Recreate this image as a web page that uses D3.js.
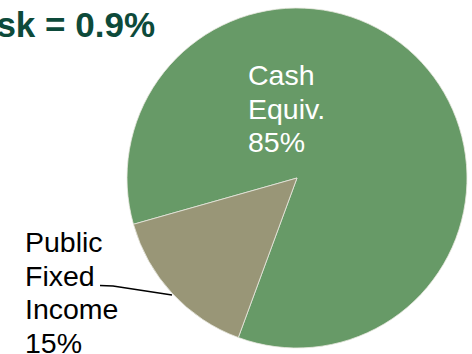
<!DOCTYPE html>
<html>
<head>
<meta charset="utf-8">
<script src="https://cdn.jsdelivr.net/npm/d3@7/dist/d3.min.js"></script>
<style>
  html, body { margin: 0; padding: 0; background: #fff; }
  svg { display: block; }
</style>
</head>
<body>
<svg id="chart" width="472" height="354"></svg>
<script>
// Allocation data
const categories = ["Cash Equiv.", "Public Fixed Income"];
const values = [85, 15];
const labelLines = [["Cash", "Equiv.", "85%"], ["Public", "Fixed", "Income", "15%"]];
const colors = ["#679a67", "#999677"];
const titleText = "Risk = 0.9%";

const svg = d3.select("#chart");
const cx = 297, cy = 178, R = 170;
const deg = Math.PI / 180;

// Pie layout: keep data order, rotate so the small slice sits lower-left
const pie = d3.pie().sort(null).value(d => d.value)
  .startAngle(254.2 * deg).endAngle(254.2 * deg + 2 * Math.PI);
const arc = d3.arc().innerRadius(0).outerRadius(R);

const data = categories.map((c, i) => ({ name: c, value: values[i], color: colors[i], lines: labelLines[i] }));
const arcs = pie(data);

const g = svg.append("g").attr("transform", `translate(${cx},${cy})`);
g.selectAll("path.slice")
  .data(arcs)
  .enter().append("path")
  .attr("class", "slice")
  .attr("d", arc)
  .attr("fill", d => d.data.color)
  .attr("stroke", "#e8e8e0")
  .attr("stroke-width", 0.8)
  .attr("stroke-linejoin", "round");

const font = "Liberation Sans, Arial, sans-serif";

// Title (runs off the left edge)
svg.append("text")
  .attr("x", 155).attr("y", 36.5)
  .attr("text-anchor", "end")
  .attr("font-family", font)
  .attr("font-weight", "bold")
  .attr("font-size", 35)
  .attr("fill", "#0d4a3a")
  .text(titleText);

const fs = 28.5, lh = 33.5;

// Inside label for the large slice
const inside = svg.append("text")
  .attr("font-family", font).attr("font-size", fs).attr("fill", "#ffffff");
arcs[0].data.lines.forEach((t, i) => {
  inside.append("tspan").attr("x", 248).attr("y", 85 + i * lh).text(t);
});

// Outside label for the small slice, with a leader line
const outside = svg.append("text")
  .attr("font-family", font).attr("font-size", fs).attr("fill", "#000000");
arcs[1].data.lines.forEach((t, i) => {
  outside.append("tspan").attr("x", 25).attr("y", 252 + i * lh).text(t);
});

svg.append("polyline")
  .attr("points", [[100, 285.5], [113, 286], [172, 295]].map(p => p.join(",")).join(" "))
  .attr("fill", "none")
  .attr("stroke", "#000")
  .attr("stroke-width", 1.5);
</script>
</body>
</html>
